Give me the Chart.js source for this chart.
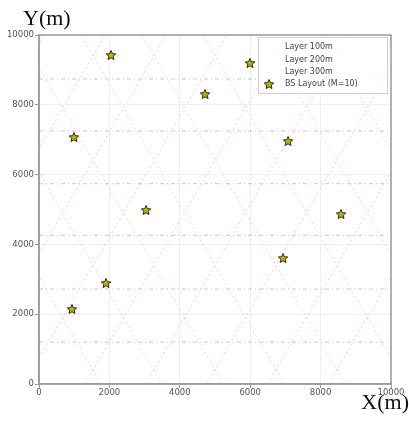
<!DOCTYPE html>
<html>
<head>
<meta charset="utf-8">
<script src="https://cdn.jsdelivr.net/npm/chart.js@4.4.1/dist/chart.umd.min.js"></script>
<style>
  html, body { margin: 0; padding: 0; background: #fff; }
  #wrap { position: relative; width: 409px; height: 424px; }
</style>
</head>
<body>
<div id="wrap"><canvas id="c" width="409" height="424"></canvas></div>
<script>
// ---- data (metres) ----
const xTicks = [0, 2000, 4000, 6000, 8000, 10000];
const yTicks = [0, 2000, 4000, 6000, 8000, 10000];

const bsX = [2045, 5994, 4716, 994, 7074, 3040, 8580, 6932, 1903, 937];
const bsY = [9427, 9198, 8309, 7077, 6963, 4986, 4871, 3610, 2894, 2149];

// Layer 100m: horizontal dashed lines (y levels)
const layer100Y = [1200, 2720, 4260, 5740, 7250, 8740];
// Layer 200m: rising diagonals, x at y=0 and x at y=10000
const layer200StartX = [-5628, -3896, -2164, -432, 1300, 3032, 4764, 6496, 8228, 9960];
const layer200EndX   = [146, 1878, 3610, 5342, 7074, 8806, 10538, 12270, 14002, 15734];
// Layer 300m: falling diagonals, x at y=0 and x at y=10000
const layer300StartX = [36, 1768, 3500, 5232, 6964, 8696, 10428, 12160, 13892, 15624];
const layer300EndX   = [-5738, -4006, -2274, -542, 1190, 2922, 4654, 6386, 8118, 9850];

const seriesLabels = ['Layer 100m', 'Layer 200m', 'Layer 300m', 'BS Layout (M=10)'];

// ---- build library datasets ----
function segs(x0s, y0s, x1s, y1s) {
  const out = [];
  for (let i = 0; i < x0s.length; i++) {
    out.push({x: x0s[i], y: y0s[i]}, {x: x1s[i], y: y1s[i]}, {x: x1s[i], y: null});
  }
  return out;
}
const d100 = segs(layer100Y.map(() => 0), layer100Y, layer100Y.map(() => 10000), layer100Y);
const d200 = segs(layer200StartX, layer200StartX.map(() => 0), layer200EndX, layer200StartX.map(() => 10000));
const d300 = segs(layer300StartX, layer300StartX.map(() => 0), layer300EndX, layer300StartX.map(() => 10000));
const bsData = bsX.map((x, i) => ({x: x, y: bsY[i]}));

// star marker
function makeStar(size, fill, stroke) {
  const cv = document.createElement('canvas');
  cv.width = size; cv.height = size;
  const g = cv.getContext('2d');
  const cx = size / 2, cy = size / 2 + 0.5, R = size / 2 - 1, r = R * 0.46;
  g.beginPath();
  for (let k = 0; k < 10; k++) {
    const ang = -Math.PI / 2 + k * Math.PI / 5;
    const rad = (k % 2 === 0) ? R : r;
    const px = cx + rad * Math.cos(ang), py = cy + rad * Math.sin(ang);
    if (k === 0) g.moveTo(px, py); else g.lineTo(px, py);
  }
  g.closePath();
  g.fillStyle = fill; g.fill();
  g.lineWidth = 1; g.strokeStyle = stroke; g.stroke();
  return cv;
}
const starImg = makeStar(12, '#bcb000', '#2a2a10');

const frameAndLegend = {
  id: 'frameAndLegend',
  afterDraw(chart) {
    const ctx = chart.ctx, a = chart.chartArea;
    ctx.save();
    ctx.strokeStyle = '#9a9a9a';
    ctx.lineWidth = 1.5;
    ctx.strokeRect(a.left, a.top, a.right - a.left, a.bottom - a.top);

    // legend box
    const lx = 258, ly = 37, lw = 129, lh = 56;
    ctx.fillStyle = 'rgba(255,255,255,0.85)';
    ctx.fillRect(lx, ly, lw, lh);
    ctx.strokeStyle = '#d0d0d0';
    ctx.lineWidth = 1;
    ctx.strokeRect(lx + 0.5, ly + 0.5, lw, lh);
    ctx.font = '8px "DejaVu Sans"';
    ctx.fillStyle = '#444';
    ctx.textBaseline = 'middle';
    ctx.textAlign = 'left';
    const rows = [47, 59.5, 72, 84];
    seriesLabels.forEach((t, i) => ctx.fillText(t, 285, rows[i]));
    ctx.drawImage(starImg, 269 - 6, 84 - 6);

    // axis titles
    ctx.fillStyle = '#111';
    ctx.font = '22px "Liberation Serif"';
    ctx.textBaseline = 'alphabetic';
    ctx.textAlign = 'left';
    ctx.fillText('Y(m)', 23, 25);
    ctx.textAlign = 'right';
    ctx.fillText('X(m)', 409, 409);
    ctx.restore();
  }
};

const tickFont = {family: 'DejaVu Sans', size: 8.5};

new Chart(document.getElementById('c'), {
  type: 'scatter',
  data: {
    datasets: [
      {label: seriesLabels[0], data: d100, showLine: true, spanGaps: false, pointRadius: 0,
       borderColor: 'rgba(110,110,210,0.4)', borderWidth: 1, borderDash: [4, 3, 1, 3]},
      {label: seriesLabels[1], data: d200, showLine: true, spanGaps: false, pointRadius: 0,
       borderColor: 'rgba(220,110,120,0.35)', borderWidth: 1, borderDash: [2, 3]},
      {label: seriesLabels[2], data: d300, showLine: true, spanGaps: false, pointRadius: 0,
       borderColor: 'rgba(225,120,150,0.35)', borderWidth: 1, borderDash: [2, 3]},
      {label: seriesLabels[3], data: bsData, pointStyle: starImg, pointRadius: 6, showLine: false}
    ]
  },
  options: {
    responsive: false,
    animation: false,
    devicePixelRatio: 1,
    layout: {padding: {top: 35, right: 18, left: 0, bottom: 0}},
    plugins: {legend: {display: false}, tooltip: {enabled: false}},
    scales: {
      x: {
        type: 'linear', min: 0, max: 10000,
        afterBuildTicks: s => { s.ticks = xTicks.map(v => ({value: v})); },
        afterFit: s => { s.height = 40; },
        ticks: {font: tickFont, color: '#555', padding: 0, maxRotation: 0, callback: v => String(v)},
        grid: {color: '#efefef', tickColor: '#999', tickLength: 4, lineWidth: 1},
        border: {color: '#9a9a9a', width: 1.5}
      },
      y: {
        type: 'linear', min: 0, max: 10000,
        afterBuildTicks: s => { s.ticks = yTicks.map(v => ({value: v})); },
        afterFit: s => { s.width = 39; },
        ticks: {font: tickFont, color: '#555', padding: 1, callback: v => String(v)},
        grid: {color: '#efefef', tickColor: '#999', tickLength: 4, lineWidth: 1},
        border: {color: '#9a9a9a', width: 1.5}
      }
    }
  },
  plugins: [frameAndLegend]
});
</script>
</body>
</html>
